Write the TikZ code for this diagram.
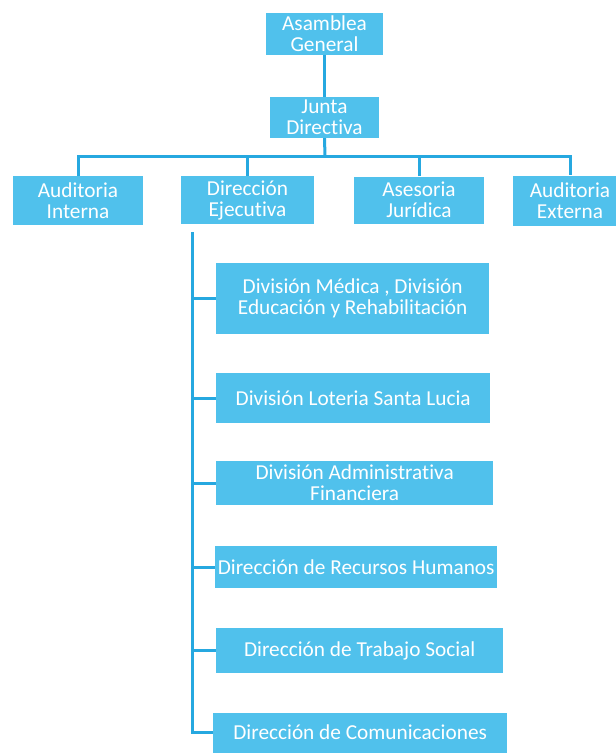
\documentclass[tikz,border=0pt]{standalone}
\usepackage{fontspec}
\setmainfont{Carlito}[Ligatures=NoCommon]
\usepackage{xcolor}
\definecolor{cajaazul}{RGB}{80,193,236}
\definecolor{lineaazul}{RGB}{38,168,224}
\usetikzlibrary{positioning}
\usetikzlibrary{calc}
\tikzset{
	caja/.style={fill=cajaazul, text=white, align=center, inner sep=0pt, font=\fontsize{21.3}{21}\selectfont},
	linea/.style={draw=lineaazul, line width=3pt}
}

\begin{document}
\begin{tikzpicture}[x=1pt, y=-1pt]
	\useasboundingbox (0,0) rectangle (616,753);
	% top
	\node[caja, minimum width=117pt, minimum height=42pt] (asamblea) at (324.5,34) {Asamblea\\General};
	\node[caja, minimum width=109pt, minimum height=41pt] (junta) at (324.5,117.5) {Junta\\Directiva};
	% second row
	\node[caja, minimum width=130pt, minimum height=49pt] (interna) at (78,200.5) {Auditoria\\Interna};
	\node[caja, minimum width=133pt, minimum height=48pt] (ejecutiva) at (247.5,200) {Dirección\\Ejecutiva};
	\node[caja, minimum width=130pt, minimum height=47pt] (juridica) at (419,200) {Asesoria\\Jurídica};
	\node[caja, minimum width=114pt, minimum height=50pt] (externa) at (570,200.5) {Auditoria\\Externa};
	% divisions
	\node[caja, anchor=west, minimum width=273pt, minimum height=71pt] (medica) at (216,298.5) {División Médica , División\\Educación y Rehabilitación};
	\node[caja, anchor=west, minimum width=274pt, minimum height=50pt] (loteria) at (216,398) {División Loteria Santa Lucia};
	\node[caja, anchor=west, minimum width=277pt, minimum height=44pt] (administrativa) at (216,483) {División Administrativa\\Financiera};
	\node[caja, anchor=west, minimum width=282pt, minimum height=42pt] (humanos) at (215,567) {Dirección de Recursos Humanos};
	\node[caja, anchor=west, minimum width=287pt, minimum height=45pt] (trabajo) at (216,650.5) {Dirección de Trabajo Social};
	\node[caja, anchor=west, minimum width=294pt, minimum height=40pt] (comunicaciones) at (213,732.5) {Dirección de Comunicaciones};
	% connectors
	\coordinate (bus) at (325,156);
	\coordinate (spine) at (192,232);
	\draw[linea] (asamblea) -- (junta);
	\draw[linea] (junta.south) -- (bus);
	\draw[linea] (interna.north) |- (bus) -| (externa.north);
	\draw[linea] (ejecutiva.north) -- (ejecutiva.north |- bus);
	\draw[linea] (juridica.north) -- (juridica.north |- bus);
	\draw[linea] (spine) |- (comunicaciones.west);
	\foreach \n in {medica, loteria, administrativa, humanos, trabajo}
		\draw[linea] (spine |- \n.west) -- (\n.west);
\end{tikzpicture}
\end{document}
